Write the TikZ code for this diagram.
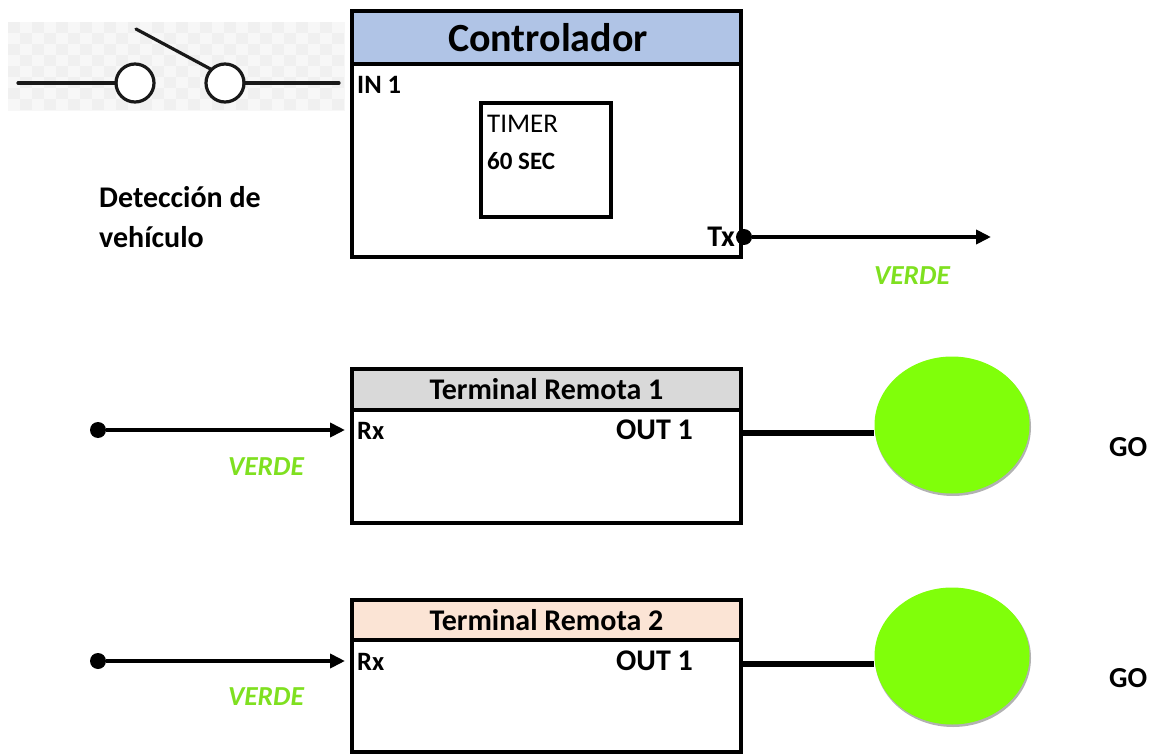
\documentclass[tikz,border=0pt]{standalone}
\usepackage{fontspec}
\setmainfont{Carlito}
\usetikzlibrary{shapes.geometric,arrows.meta}
\definecolor{hdrblue}{HTML}{B0C4E6}
\definecolor{hdrgrey}{HTML}{D9D9D9}
\definecolor{hdrpeach}{HTML}{FBE4D5}
\definecolor{lampgreen}{HTML}{80FF0A}
\definecolor{verdegreen}{HTML}{7FE020}
\tikzset{
  x=1pt,y=-1pt,
  boxpart/.style={draw=black,line width=4pt,rectangle,inner sep=0pt,outer sep=0pt,anchor=north west,minimum width=389pt},
  lbl/.style={inner sep=0pt,font=\fontsize{26.5}{30}\selectfont\bfseries,anchor=west},
  big/.style={inner sep=0pt,font=\fontsize{30}{34}\selectfont\bfseries,anchor=west},
  plain/.style={inner sep=0pt,anchor=west,text=black},
  verdelbl/.style={inner sep=0pt,text=verdegreen,font=\fontsize{27.5}{32}\selectfont\bfseries\itshape},
  wire/.style={line width=5.5pt,draw=black},
  arrowwire/.style={line width=4.6pt,draw=black,-{Triangle[length=15pt,width=14pt]}},
  dotnode/.style={circle,fill=black,inner sep=0pt,minimum size=16pt},
  lamp/.style={ellipse,fill=lampgreen,inner sep=0pt,minimum width=155pt,minimum height=137pt},
  lampshadow/.style={ellipse,fill=black!60,opacity=.5,inner sep=0pt,minimum width=156pt,minimum height=138pt},
  sw/.style={line width=3.2pt,draw=black!90!white,line cap=round},
  swc/.style={circle,draw=black!90!white,line width=3.2pt,fill=white,inner sep=0pt,outer sep=0pt,minimum size=38pt}
}
\begin{document}
\begin{tikzpicture}
\useasboundingbox (0,0) rectangle (1154,754);
% switch picture
\fill[black!3] (8,22) rectangle (345,111);
\foreach \i in {0,...,27}{\foreach \j in {0,...,7}{
  \pgfmathparse{int(mod(\i+\j,2))}
  \ifnum\pgfmathresult=0 \fill[black!6] ({8+12*\i},{22+11*\j}) rectangle ++(12,11);\fi
}}
\coordinate (swL) at (18,83);
\coordinate (swR) at (339,83);
\coordinate (swT) at (136,29);
\node[swc] (c1) at (135,83) {};
\node[swc] (c2) at (225,83) {};
\draw[sw] (swL) -- (c1.west);
\draw[sw] (c2.east) -- (swR);
\draw[sw] (swT) -- (c2.north west);
% controller
\node[boxpart,minimum height=53pt,fill=hdrblue,font=\fontsize{40}{46}\selectfont\bfseries] (ctlh) at (352,11) {\hspace{3pt}Controlador};
\node[boxpart,minimum height=193pt] (ctl) at (352,64) {};
\node[boxpart,minimum width=130pt,minimum height=114pt] (timer) at (481,103) {};
\node[lbl] (in1) at (357,85) {IN 1};
\node[plain,font=\fontsize{27}{31}\selectfont] (tmr) at (487,124) {TIMER};
\node[lbl,font=\fontsize{25}{29}\selectfont\bfseries] (sec) at (487,161) {60 SEC};
\node[big,anchor=east] (tx) at (735,237) {Tx};
\node[dotnode] (txd) at (744,237) {};
\coordinate (txe) at (991,237);
\draw[arrowwire] (txd) -- (txe);
\node[verdelbl] (v0) at (912,276) {VERDE};
\node[big,align=left,anchor=north west] (det) at (99,186) {Detección de\\[6pt]vehículo};
% terminal 1
\node[boxpart,minimum height=41pt,fill=hdrgrey,font=\fontsize{30}{34}\selectfont\bfseries] (t1h) at (352,369) {Terminal Remota 1};
\node[boxpart,minimum height=113pt] (t1) at (352,410) {};
\node[lbl] (rx1) at (357,431) {Rx};
\node[big] (o1) at (616,430) {OUT 1};
\node[dotnode] (d1) at (98,430) {};
\coordinate (a1) at (345,430);
\draw[arrowwire] (d1) -- (a1);
\node[verdelbl] (v1) at (266,467) {VERDE};
\node[lampshadow] (s1) at (953,427) {};
\node[lamp] (l1) at (952,425) {};
\coordinate (t1r) at (741,433);
\draw[wire] (t1r) -- (l1.west |- t1r);
\node[lbl,font=\fontsize{29}{33}\selectfont\bfseries] (go1) at (1109,447) {GO};
% terminal 2
\node[boxpart,minimum height=40pt,fill=hdrpeach,font=\fontsize{30}{34}\selectfont\bfseries] (t2h) at (352,600) {Terminal Remota 2};
\node[boxpart,minimum height=112pt] (t2) at (352,640) {};
\node[lbl] (rx2) at (357,662) {Rx};
\node[big] (o2) at (616,661) {OUT 1};
\node[dotnode] (d2) at (98,661) {};
\coordinate (a2) at (345,661);
\draw[arrowwire] (d2) -- (a2);
\node[verdelbl] (v2) at (266,697) {VERDE};
\node[lampshadow] (s2) at (953,658) {};
\node[lamp] (l2) at (952,656) {};
\coordinate (t2r) at (741,664);
\draw[wire] (t2r) -- (l2.west |- t2r);
\node[lbl,font=\fontsize{29}{33}\selectfont\bfseries] (go2) at (1109,678) {GO};
\end{tikzpicture}
\end{document}
